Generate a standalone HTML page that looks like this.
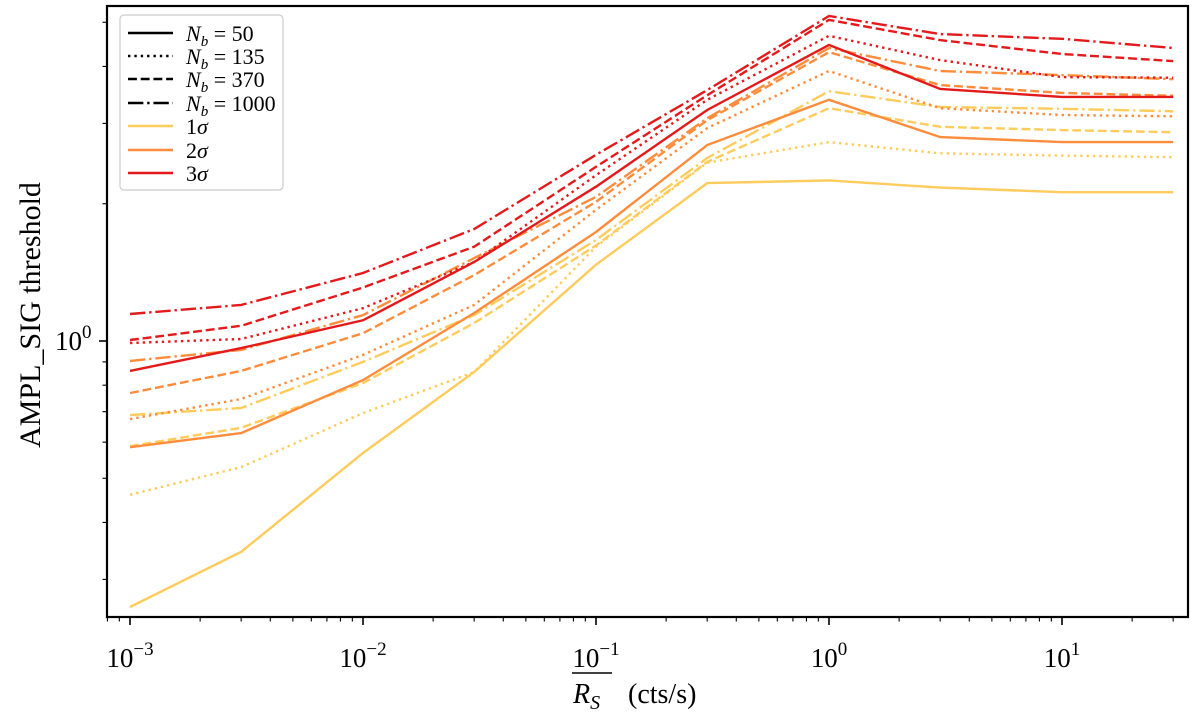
<!DOCTYPE html>
<html><head><meta charset="utf-8"><style>
body{margin:0;background:#fff}
svg{display:block;font-family:"Liberation Serif",serif}
</style></head><body>
<svg id="chart" width="1200" height="717" xmlns="http://www.w3.org/2000/svg">
<g id="plot"></g>
</svg>
<script>
const xValues=[0.001,0.003,0.01,0.03,0.1,0.3,1,3,10,30];
const s3_50=[0.86,0.965,1.11,1.49,2.18,3.21,4.46,3.57,3.43,3.43];
const s3_135=[0.99,1.01,1.18,1.49,2.31,3.38,4.67,4.13,3.79,3.78];
const s3_370=[1.005,1.08,1.31,1.61,2.41,3.46,5.06,4.57,4.26,4.11];
const s3_1000=[1.146,1.20,1.41,1.76,2.56,3.55,5.16,4.71,4.60,4.39];
const s2_50=[0.585,0.628,0.821,1.152,1.734,2.69,3.38,2.80,2.73,2.73];
const s2_135=[0.674,0.746,0.932,1.20,1.94,2.93,3.91,3.24,3.13,3.11];
const s2_370=[0.769,0.86,1.04,1.395,2.02,3.05,4.30,3.64,3.50,3.45];
const s2_1000=[0.904,0.956,1.14,1.52,2.07,3.08,4.39,3.91,3.83,3.75];
const s1_50=[0.261,0.345,0.568,0.855,1.47,2.22,2.25,2.17,2.12,2.12];
const s1_135=[0.46,0.529,0.695,0.855,1.61,2.46,2.73,2.58,2.55,2.53];
const s1_370=[0.588,0.645,0.809,1.095,1.62,2.47,3.24,2.95,2.90,2.87];
const s1_1000=[0.688,0.713,0.90,1.14,1.665,2.52,3.53,3.26,3.23,3.19];
const xTickExps=[-3,-2,-1,0,1];
const nbLabels=["50","135","370","1000"];
const sigmaLabels=["1","2","3"];

const NS="http://www.w3.org/2000/svg";
const L=107,R=1188,T=6,B=617;
const X0=829,DX=233,Y0=341,DY=456;
const xs=v=>X0+DX*Math.log10(v);
const ys=v=>Y0-DY*Math.log10(v);
const svg=document.getElementById('chart');
const plot=document.getElementById('plot');
function mk(tag,attrs,parent){const e=document.createElementNS(NS,tag);for(const k in attrs)e.setAttribute(k,attrs[k]);(parent||svg).appendChild(e);return e;}
const colors=["#fecc5c","#fd8d3c","#e31a1c"];
const lw=2.4;
const dashes=[null,`${1*lw} ${1.65*lw}`,`${3.7*lw} ${1.6*lw}`,`${6.4*lw} ${1.6*lw} ${1*lw} ${1.6*lw}`];
const series=[[s1_50,s1_135,s1_370,s1_1000],[s2_50,s2_135,s2_370,s2_1000],[s3_50,s3_135,s3_370,s3_1000]];
const names=["1sigma","2sigma","3sigma"];
series.forEach((grp,si)=>grp.forEach((arr,ni)=>{
  const d=arr.map((v,i)=>(i?'L':'M')+xs(xValues[i]).toFixed(1)+' '+ys(v).toFixed(1)).join(' ');
  const p=mk('path',{d:d,fill:'none',stroke:colors[si],'stroke-width':lw},plot);
  if(dashes[ni])p.setAttribute('stroke-dasharray',dashes[ni]);
  
  
}));
const fr=mk('rect',{x:L,y:T,width:R-L,height:B-T,fill:'none',stroke:'#000','stroke-width':2.2});


for(let e=-4;e<=2;e++){for(let m=1;m<10;m++){const v=m*Math.pow(10,e);const x=xs(v);if(x<L||x>R)continue;
  const len=m===1?8:4.5;const t=mk('line',{x1:x,x2:x,y1:B,y2:B+len,stroke:'#000','stroke-width':m===1?1.6:1.1});
  
  }}
xTickExps.forEach(e=>{const x=xs(Math.pow(10,e));
  const t=mk('text',{x:x,y:667,'font-size':27,'text-anchor':'middle'});
  
  
  t.innerHTML='10<tspan dy="-12" font-size="19">'+(e<0?'\u2212'+(-e):e)+'</tspan>';});
for(let e=-1;e<=0;e++){for(let m=1;m<10;m++){const v=m*Math.pow(10,e);const y=ys(v);if(y<T||y>B)continue;
  const len=m===1&&e===0?8:4.5;const t=mk('line',{x1:L-len,x2:L,y1:y,y2:y,stroke:'#000','stroke-width':m===1?1.6:1.1});
  
  }}
const yl=mk('text',{x:55,y:350,'font-size':27});


yl.innerHTML='10<tspan dy="-12" font-size="19">0</tspan>';
const yt=mk('text',{x:0,y:0,'font-size':30,'text-anchor':'middle',transform:'translate(40,315) rotate(-90)'});
yt.textContent='AMPL_SIG threshold';


const xt=mk('text',{x:573,y:703,'font-size':28});
xt.innerHTML='<tspan font-style="italic">R</tspan><tspan font-style="italic" font-size="20" dy="6">S</tspan><tspan dy="-6" x="628">(cts/s)</tspan>';


const ov=mk('line',{x1:572,x2:612,y1:673,y2:673,stroke:'#000','stroke-width':1.5});


const lg=mk('g',{});


mk('rect',{x:120,y:15,width:163,height:175,rx:4,fill:'#fff',stroke:'#ccc','stroke-width':1.2},lg);
const rowY=[33,56,79,103,126,150,173];
nbLabels.forEach((lab,i)=>{
  const l=mk('line',{x1:128,x2:173,y1:rowY[i],y2:rowY[i],stroke:'#000','stroke-width':lw},lg);
  if(dashes[i])l.setAttribute('stroke-dasharray',dashes[i]);
  const t=mk('text',{x:186,y:rowY[i]+8,'font-size':22},lg);
  t.innerHTML='<tspan font-style="italic">N</tspan><tspan font-style="italic" font-size="15" dy="5">b</tspan><tspan dy="-5"> = '+lab+'</tspan>';
  
  
});
sigmaLabels.forEach((lab,i)=>{
  const y=rowY[4+i];
  mk('line',{x1:128,x2:173,y1:y,y2:y,stroke:colors[i],'stroke-width':lw},lg);
  const t=mk('text',{x:186,y:y+8,'font-size':22},lg);
  t.innerHTML=lab+'<tspan font-style="italic">σ</tspan>';
  
  
});
</script>
</body></html>
